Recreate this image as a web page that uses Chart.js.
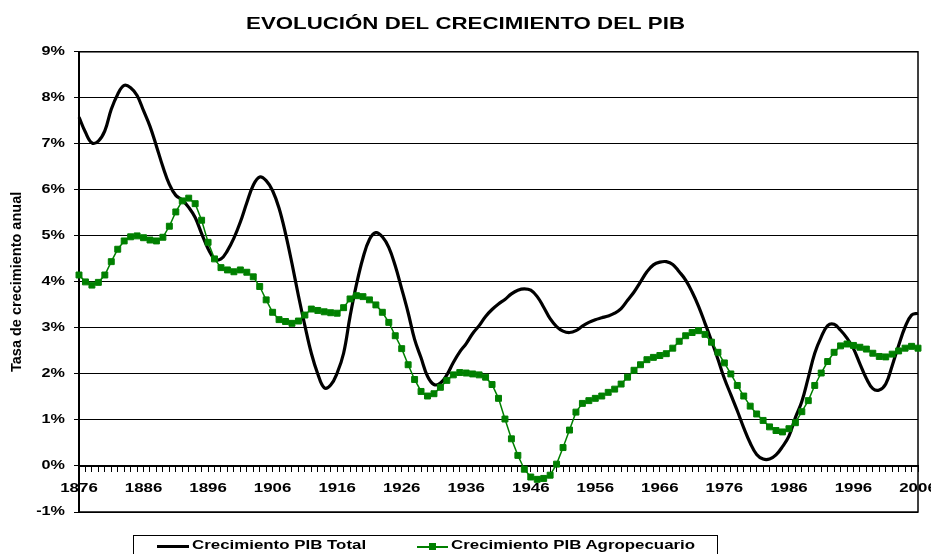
<!DOCTYPE html>
<html lang="es">
<head>
<meta charset="utf-8">
<title>Evolución del crecimiento del PIB</title>
<script src="https://cdn.jsdelivr.net/npm/chart.js"></script>
<style>
  body { margin: 0; background: #fff; }
  #wrap { position: relative; width: 931px; height: 554px; overflow: hidden; }
  #legend { position: absolute; left: 133px; top: 535px; width: 585px; height: 30px; border: 1px solid #000; box-sizing: border-box; }
  #legend .txt { position: absolute; top: 2px; font: bold 12.5px "Liberation Sans", Arial, sans-serif; color: #000; transform: scaleX(1.35); transform-origin: left center; white-space: nowrap; }
  #legend .line { position: absolute; height: 3px; background: #000; }
  #legend .mark { position: absolute; width: 7px; height: 7px; background: #008000; }
</style>
</head>
<body>
<div id="wrap">
  <canvas id="chart" width="931" height="554"></canvas>
  <div id="legend"></div>
</div>
<script>
const chartTitle = "EVOLUCIÓN DEL CRECIMIENTO DEL PIB";
const yAxisTitle = "Tasa de crecimiento anual";
const seriesNames = ["Crecimiento PIB Total", "Crecimiento PIB Agropecuario"];

// one category per year, 1876 - 2006
const years = [];
for (let y = 1876; y <= 2006; y++) years.push(String(y));

// % anual
const pibTotal = [
  7.58, 7.25, 7.02, 7.06, 7.28, 7.75, 8.08, 8.27, 8.22, 8.05,   // 1876-1885
  7.72, 7.38, 6.95, 6.50, 6.12, 5.88, 5.78, 5.62, 5.40, 5.05,   // 1886-1895
  4.72, 4.50, 4.50, 4.68, 4.95, 5.30, 5.72, 6.10, 6.28, 6.20,   // 1896-1905
  5.98, 5.60, 5.05, 4.40, 3.70, 3.05, 2.45, 2.00, 1.70, 1.76,   // 1906-1915
  2.02, 2.45, 3.25, 3.95, 4.52, 4.92, 5.07, 4.98, 4.75, 4.35,   // 1916-1925
  3.85, 3.33, 2.75, 2.35, 1.95, 1.77, 1.80, 1.98, 2.25, 2.48,   // 1926-1935
  2.66, 2.88, 3.05, 3.25, 3.40, 3.52, 3.62, 3.74, 3.82, 3.85,   // 1936-1945
  3.82, 3.68, 3.45, 3.20, 3.03, 2.93, 2.90, 2.94, 3.04, 3.12,   // 1946-1955
  3.18, 3.22, 3.26, 3.32, 3.42, 3.60, 3.78, 4.00, 4.22, 4.37,   // 1956-1965
  4.43, 4.44, 4.38, 4.22, 4.04, 3.78, 3.47, 3.10, 2.72, 2.32,   // 1966-1975
  1.90, 1.55, 1.20, 0.83, 0.50, 0.25, 0.15, 0.15, 0.24, 0.42,   // 1976-1985
  0.65, 1.05, 1.40, 1.92, 2.45, 2.80, 3.05, 3.08, 2.95, 2.78,   // 1986-1995
  2.55, 2.22, 1.90, 1.68, 1.65, 1.78, 2.18, 2.62, 3.02, 3.28,   // 1996-2005
  3.32                                                          // 2006
];

const pibAgro = [
  4.15, 4.00, 3.93, 3.99, 4.15, 4.44, 4.71, 4.89, 4.98, 5.00,   // 1876-1885
  4.96, 4.91, 4.89, 4.97, 5.21, 5.52, 5.76, 5.82, 5.70, 5.34,   // 1886-1895
  4.86, 4.50, 4.31, 4.26, 4.22, 4.26, 4.21, 4.11, 3.90, 3.61,   // 1896-1905
  3.34, 3.18, 3.14, 3.10, 3.15, 3.28, 3.41, 3.38, 3.35, 3.33,   // 1906-1915
  3.32, 3.44, 3.63, 3.70, 3.68, 3.61, 3.50, 3.34, 3.12, 2.83,   // 1916-1925
  2.55, 2.20, 1.88, 1.62, 1.52, 1.57, 1.71, 1.86, 1.98, 2.03,   // 1926-1935
  2.02, 2.00, 1.98, 1.93, 1.77, 1.47, 1.02, 0.59, 0.23, -0.07,  // 1936-1945
  -0.24, -0.29, -0.27, -0.20, 0.04, 0.40, 0.78, 1.17, 1.36, 1.42, // 1946-1955
  1.47, 1.52, 1.60, 1.67, 1.78, 1.93, 2.08, 2.20, 2.31, 2.36,   // 1956-1965
  2.40, 2.44, 2.56, 2.71, 2.83, 2.90, 2.94, 2.86, 2.69, 2.47,   // 1966-1975
  2.24, 2.00, 1.75, 1.52, 1.30, 1.13, 0.99, 0.85, 0.77, 0.74,   // 1976-1985
  0.81, 0.94, 1.18, 1.42, 1.75, 2.02, 2.27, 2.47, 2.61, 2.65,   // 1986-1995
  2.62, 2.58, 2.54, 2.45, 2.38, 2.37, 2.43, 2.50, 2.56, 2.60,   // 1996-2005
  2.56                                                          // 2006
];

const yMin = -1, yMax = 9, yStep = 1;

const FONT = '"Liberation Sans", Arial, sans-serif';
const TEXT_STRETCH = 1.35; // the original Excel chart has horizontally stretched text

// stretch unrotated canvas text around its anchor point
const baseFillText = CanvasRenderingContext2D.prototype.fillText;
CanvasRenderingContext2D.prototype.fillText = function(text, x, y, maxWidth) {
    const m = this.getTransform();
    if (m.b !== 0 || m.c !== 0) return baseFillText.call(this, text, x, y, maxWidth);
    this.save();
    this.translate(x, y);
    this.scale(TEXT_STRETCH, 1);
    baseFillText.call(this, text, 0, 0);
    this.restore();
};

// plot area frame (right edge mostly)
const frame = {
    id: 'frame',
    beforeDatasetsDraw(chart) {
        const a = chart.chartArea, c = chart.ctx;
        c.save();
        c.strokeStyle = '#000';
        c.lineWidth = 1.5;
        c.strokeRect(a.left, a.top, a.right - a.left, a.bottom - a.top);
        c.restore();
    }
};

const ctx = document.getElementById('chart').getContext('2d');
const chart = new Chart(ctx, {
    type: 'line',
    data: {
        labels: years,
        datasets: [{
            label: seriesNames[0],
            data: pibTotal,
            borderColor: '#000',
            borderWidth: 3.2,
            pointRadius: 0,
            tension: 0.4,
            order: 1
        }, {
            label: seriesNames[1],
            data: pibAgro,
            borderColor: '#008000',
            backgroundColor: '#008000',
            borderWidth: 1.5,
            pointStyle: 'rect',
            pointRadius: 4.2,
            pointBorderWidth: 1,
            tension: 0,
            order: 0
        }]
    },
    options: {
        responsive: false,
        animation: false,
        layout: { padding: { left: 0, right: 0, top: 0, bottom: 42 } },
        plugins: {
            legend: { display: false },
            tooltip: { enabled: false },
            title: {
                display: true,
                text: chartTitle,
                color: '#000',
                font: { family: FONT, size: 16.5, weight: 'bold' },
                padding: { top: 15, bottom: 17 }
            }
        },
        scales: {
            x: {
                type: 'category',
                position: { y: 0 },
                offset: false,
                // the last label "2006" runs into the frame in the original
                afterFit: (scale) => { scale.paddingLeft = 0; scale.paddingRight = 13; },
                grid: { drawOnChartArea: false, drawTicks: true, tickLength: 5, color: '#000', offset: false },
                border: { color: '#000', width: 2 },
                ticks: {
                    autoSkip: false,
                    maxRotation: 0,
                    padding: 10,
                    color: '#000',
                    font: { family: FONT, size: 12.5, weight: 'bold' },
                    callback: (v, i) => i % 10 === 0 ? years[i] : ''
                }
            },
            y: {
                min: yMin,
                max: yMax,
                afterFit: (scale) => { scale.width = 79; },
                grid: { color: '#000', lineWidth: 1, tickLength: 5 },
                border: { color: '#000', width: 2 },
                ticks: {
                    stepSize: yStep,
                    padding: 9,
                    color: '#000',
                    font: { family: FONT, size: 12, weight: 'bold' },
                    callback: (v) => v + '%'
                },
                title: {
                    display: true,
                    text: yAxisTitle,
                    color: '#000',
                    font: { family: FONT, size: 14.5, weight: 'bold' },
                    padding: { top: 8, bottom: 0 }
                }
            }
        }
    },
    plugins: [frame]
});

// legend box like the Excel one
const legend = document.getElementById('legend');
legend.innerHTML =
    '<span class="line" style="left:23px; top:9px; width:32px;"></span>' +
    '<span class="txt" style="left:58px;">' + seriesNames[0] + '</span>' +
    '<span class="line" style="left:283px; top:10px; width:31px; height:1.5px; background:#008000;"></span>' +
    '<span class="mark" style="left:295px; top:7px;"></span>' +
    '<span class="txt" style="left:317px;">' + seriesNames[1] + '</span>';
</script>
</body>
</html>
